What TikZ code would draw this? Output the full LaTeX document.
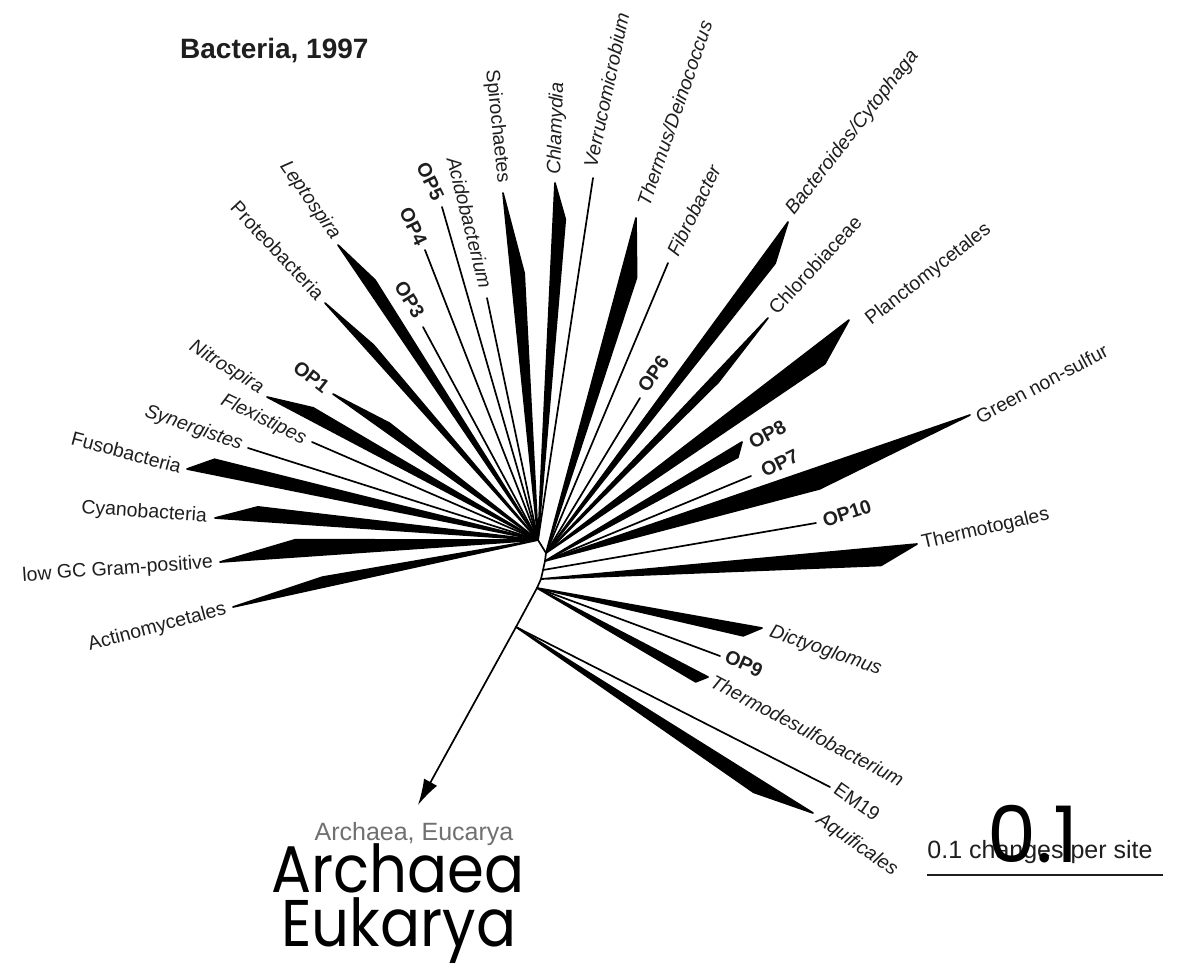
\documentclass[tikz,border=0pt]{standalone}
\usepackage{fontspec}
\setmainfont{Liberation Sans}
\newfontfamily\handfont{Poppins}
\usetikzlibrary{calc,arrows.meta}
\definecolor{ink}{HTML}{1E1E1E}
\definecolor{faded}{HTML}{707070}
\tikzset{
  branch/.style={line width=1.7pt, line join=round, line cap=round, draw=black},
  clade/.style={branch, fill=black},
  taxon/.style={font=\fontsize{19.5}{22}\selectfont, text=ink, inner sep=0pt},
  genus/.style={taxon, font=\fontsize{19.5}{22}\selectfont\itshape},
  envclone/.style={taxon, font=\fontsize{19.5}{22}\selectfont\bfseries},
  hand/.style={font=\handfont\fontsize{66}{66}\selectfont, text=black, inner sep=0pt},
}
% filled clade triangle: tip, parent node, position of the widest point, half width
\newcommand\cladewedge[4]{\filldraw[clade] (#1) -- ($(#1)!#3!(#2)!#4pt!90:(#2)$) -- (#2) -- cycle;}
% slightly condensed handwriting
\newcommand\narrow[1]{\scalebox{0.9}[1]{#1}}
\begin{document}
\begin{tikzpicture}[x=1pt,y=-1pt]
\fill[white] (0,0) rectangle (1188,967);
\useasboundingbox (0,0) rectangle (1188,967);

% internal nodes along the trunk
\coordinate (L)  at (538,540);
\coordinate (R1) at (546,553);
\coordinate (R2) at (545,561);
\coordinate (R3) at (543,570);
\coordinate (R4) at (541,579);
\coordinate (S2) at (537,588);
\coordinate (S3) at (516,627);
\coordinate (root) at (418,805);

% tips
\coordinate (actino)    at (233,607);
\coordinate (lowgc)     at (220,562);
\coordinate (cyano)     at (215,518);
\coordinate (fuso)      at (187,469);
\coordinate (synerg)    at (248,448);
\coordinate (flexi)     at (312,442);
\coordinate (nitro)     at (267,397);
\coordinate (op1)       at (333,394);
\coordinate (proteo)    at (325,303);
\coordinate (lepto)     at (338,245);
\coordinate (op3)       at (423,327);
\coordinate (op4)       at (425,250);
\coordinate (op5)       at (442,207);
\coordinate (acido)     at (487,298);
\coordinate (spiro)     at (503,193);
\coordinate (chlam)     at (555,183);
\coordinate (verruco)   at (593,178);
\coordinate (thermus)   at (636,218);
\coordinate (fibro)     at (668,263);
\coordinate (op6)       at (640,398);
\coordinate (bactero)   at (788,222);
\coordinate (chloro)    at (768,318);
\coordinate (plancto)   at (849,320);
\coordinate (op8)       at (742,442);
\coordinate (op7)       at (751,476);
\coordinate (green)     at (970,415);
\coordinate (op10)      at (816,523);
\coordinate (thermotog) at (917,544);
\coordinate (dictyo)    at (762,628);
\coordinate (op9)       at (720,656);
\coordinate (thermodes) at (708,677);
\coordinate (em19)      at (830,787);
\coordinate (aquif)     at (813,813);

% single-sequence branches
\foreach \t in {synerg,flexi,op3,op4,op5,acido,verruco} \draw[branch] (\t) -- (L);
\foreach \t in {fibro,op6} \draw[branch] (\t) -- (R1);
\draw[branch] (op7) -- (R2);
\draw[branch] (op10) -- (R3);
\draw[branch] (op9) -- (S2);
\draw[branch] (em19) -- (S3);

% divisions with several sequences
\cladewedge{actino}{L}{0.3}{10}
\cladewedge{lowgc}{L}{0.24}{17}
\cladewedge{cyano}{L}{0.13}{14}
\cladewedge{fuso}{L}{0.07}{15}
\cladewedge{nitro}{L}{0.15}{12}
\cladewedge{op1}{L}{0.25}{9}
\cladewedge{proteo}{L}{0.2}{8}
\cladewedge{lepto}{L}{0.14}{11}
\cladewedge{spiro}{L}{0.235}{13}
\cladewedge{chlam}{L}{0.1}{12}
\cladewedge{thermus}{R1}{0.165}{16}
\cladewedge{bactero}{R1}{0.1}{14}
\cladewedge{chloro}{R1}{0.25}{8}
\cladewedge{plancto}{R1}{0.12}{20}
\cladewedge{op8}{R2}{0.05}{11}
\cladewedge{green}{R2}{0.37}{21}
\cladewedge{thermotog}{R4}{0.1}{18}
\cladewedge{dictyo}{S2}{0.075}{11}
\cladewedge{thermodes}{S2}{0.045}{10}
\cladewedge{aquif}{S3}{0.175}{14}

% trunk and the way to the other domains
\draw[branch] (L) -- (R1) -- (R2) -- (R3) -- (R4) -- (S2) -- (S3);
\draw[branch, -{Latex[length=26pt,width=15pt]}] (S3) -- (root);

% labels, left half (text ends at the tip)
\node[taxon, anchor=east, rotate=15]   (tActino) at (226,609) {Actinomycetales};
\node[taxon, anchor=east, rotate=4]    (tLowgc)  at (213,563) {low GC Gram-positive};
\node[taxon, anchor=east, rotate=-4]   (tCyano)  at (207,517) {Cyanobacteria};
\node[taxon, anchor=east, rotate=-15]  (tFuso)   at (181,467) {Fusobacteria};
\node[genus, anchor=east, rotate=-19]  (tSynerg) at (242,445) {Synergistes};
\node[genus, anchor=east, rotate=-26]  (tFlexi)  at (305,440) {Flexistipes};
\node[genus, anchor=east, rotate=-32]  (tNitro)  at (262,390) {Nitrospira};
\node[envclone, anchor=east, rotate=-38] (tOP1)  at (327,389) {OP1};
\node[taxon, anchor=east, rotate=-47]  (tProteo) at (321,297) {Proteobacteria};
\node[genus, anchor=east, rotate=-55]  (tLepto)  at (336,238) {Leptospira};
\node[envclone, anchor=east, rotate=-58] (tOP3)  at (420,316) {OP3};
\node[envclone, anchor=east, rotate=-64] (tOP4)  at (422,244) {OP4};
\node[envclone, anchor=east, rotate=-64] (tOP5)  at (439,199) {OP5};
\node[genus, anchor=east, rotate=-76]  (tAcido)  at (486,288) {Acidobacterium};
\node[taxon, anchor=east, rotate=-84]  (tSpiro)  at (503,183) {Spirochaetes};

% labels, right half (text starts at the tip)
\node[genus, anchor=west, rotate=88]   (tChlam)   at (555,175) {Chlamydia};
\node[genus, anchor=west, rotate=78]   (tVerruco) at (590,167) {Verrucomicrobium};
\node[genus, anchor=west, rotate=71]   (tThermus) at (643,205) {Thermus/Deinococcus};
\node[genus, anchor=west, rotate=64]   (tFibro)   at (672,255) {Fibrobacter};
\node[genus, anchor=west, rotate=52]   (tBactero) at (790,213) {Bacteroides/Cytophaga};
\node[taxon, anchor=west, rotate=47]   (tChloro)  at (772,311) {Chlorobiaceae};
\node[taxon, anchor=west, rotate=38]   (tPlancto) at (868,322) {Planctomycetales};
\node[envclone, anchor=west, rotate=55] (tOP6)    at (642,390) {OP6};
\node[envclone, anchor=west, rotate=28] (tOP8)    at (750,444) {OP8};
\node[envclone, anchor=west, rotate=26] (tOP7)    at (762,472) {OP7};
\node[taxon, anchor=west, rotate=28]   (tGreen)   at (977,418) {Green non-sulfur};
\node[envclone, anchor=west, rotate=18] (tOP10)   at (823,521) {OP10};
\node[taxon, anchor=west, rotate=13]   (tThermotog) at (922,544) {Thermotogales};
\node[genus, anchor=west, rotate=-19]  (tDictyo)  at (770,632) {Dictyoglomus};
\node[envclone, anchor=west, rotate=-25] (tOP9)   at (726,655) {OP9};
\node[genus, anchor=west, rotate=-28]  (tThermodes) at (712,680) {Thermodesulfobacterium};
\node[taxon, anchor=west, rotate=-35]  (tEM19)    at (836,787) {EM19};
\node[genus, anchor=west, rotate=-35]  (tAquif)   at (818,818) {Aquificales};

% title, outgroup and scale
\node[font=\fontsize{28}{30}\selectfont\bfseries, text=ink, inner sep=0pt, anchor=base west] (title) at (180,58) {Bacteria, 1997};
\node[taxon, font=\fontsize{25}{27}\selectfont, text=faded, anchor=base] (outgroup) at (414,840) {Archaea, Eucarya};
\coordinate (barL) at (927,875);
\coordinate (barR) at (1163,875);
\draw[line width=2.4pt, draw=ink] (barL) -- (barR);
\node[taxon, font=\fontsize{25}{27}\selectfont, anchor=base] (barText) at (1040,858) {0.1 changes per site};

% handwritten-style annotations on top
\node[hand, anchor=base] (archaeaBig) at (398,892) {\narrow{Archaea}};
\node[hand, anchor=base] (eukaryaBig) at (399,946) {\narrow{Eukarya}};
\node[hand, font=\handfont\fontsize{78}{78}\selectfont, anchor=base] (scaleBig) at (1033,862) {0.1};
\end{tikzpicture}
\end{document}
